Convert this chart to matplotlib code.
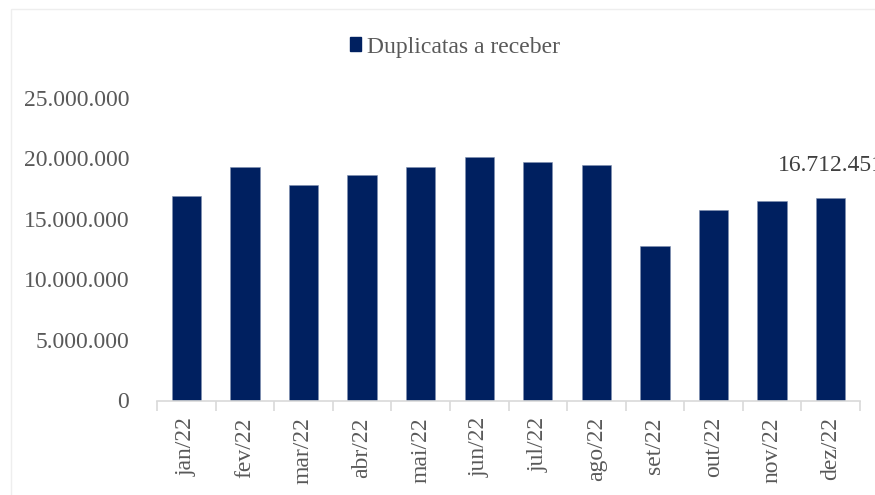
import matplotlib
matplotlib.use("Agg")
import matplotlib.pyplot as plt
from matplotlib.patches import Rectangle, Patch
from matplotlib.ticker import FuncFormatter, FixedLocator

months = ["jan/22", "fev/22", "mar/22", "abr/22", "mai/22", "jun/22",
          "jul/22", "ago/22", "set/22", "out/22", "nov/22", "dez/22"]
duplicatas = [16.90e6, 19.27e6, 17.81e6, 18.58e6, 19.27e6, 20.09e6,
              19.68e6, 19.43e6, 12.72e6, 15.69e6, 16.44e6, 16712451]
series_name = "Duplicatas a receber"
y_ticks = [0, 5e6, 10e6, 15e6, 20e6, 25e6]

NAVY = "#002060"
GREY_TXT = "#595959"
GREY_LINE = "#D9D9D9"

plt.rcParams.update({"font.family": ["Liberation Serif", "DejaVu Serif"],
                     "font.size": 17})

W, H = 875, 495
fig = plt.figure(figsize=(W / 100, H / 100), dpi=100)
# faint outer chart border
fig.patches.append(Rectangle((11 / W, -0.05), 1.2, 1 - 9 / H + 0.05,
                             transform=fig.transFigure, fill=False,
                             ec="#EEEEEE", lw=1.0))

ax = fig.add_axes([157 / W, 1 - 400.5 / H, (860 - 157) / W, (400.5 - 97.5) / H])
x = range(len(months))
ax.bar(x, duplicatas, width=0.5, color=NAVY, edgecolor="#8090B0", linewidth=0.4)

ax.set_xlim(-0.5, len(months) - 0.5)
ax.set_ylim(0, 25e6)
ax.set_yticks(y_ticks)
ax.yaxis.set_major_formatter(FuncFormatter(lambda v, _: f"{v:,.0f}".replace(",", ".")))
ax.set_xticks(list(x))
ax.set_xticklabels(months, rotation=90)
ax.xaxis.set_minor_locator(FixedLocator([i - 0.5 for i in range(len(months) + 1)]))
ax.tick_params(axis="x", which="major", length=0, pad=12, colors=GREY_TXT)
ax.tick_params(axis="x", which="minor", length=7, width=1.2, color=GREY_LINE)
ax.tick_params(axis="y", length=0, pad=20, colors=GREY_TXT)
for s in ("top", "right", "left"):
    ax.spines[s].set_visible(False)
ax.spines["bottom"].set_color(GREY_LINE)
ax.spines["bottom"].set_linewidth(1.2)

ax.annotate(f"{duplicatas[-1]:,.0f}".replace(",", "."), (len(months) - 1, duplicatas[-1]),
            xytext=(0, 16), textcoords="offset points", ha="center", va="bottom",
            color="#404040", annotation_clip=False)

fig.legend(handles=[Patch(color=NAVY, label=series_name)], loc="center",
           bbox_to_anchor=(455 / W, 1 - 47 / H), frameon=False,
           handlelength=0.5, handleheight=0.5, handletextpad=0.25,
           labelcolor=GREY_TXT)

fig.savefig("out.png", dpi=100)
